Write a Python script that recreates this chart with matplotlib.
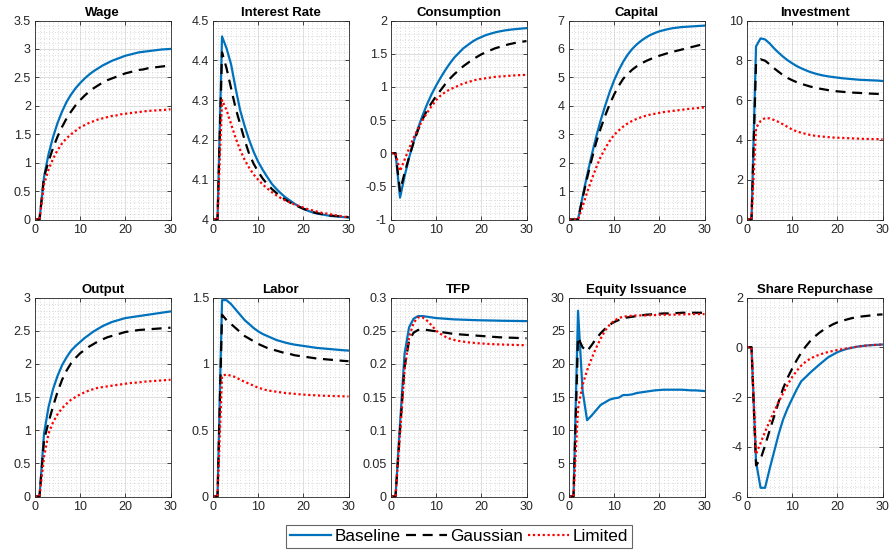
import matplotlib.pyplot as plt
from matplotlib.ticker import MultipleLocator

plt.rcParams["font.family"] = ["Liberation Sans", "DejaVu Sans"]

# Impulse responses over 30 periods
periods = list(range(31))

wage_base = [0, 0, 0.75, 1.15, 1.45, 1.7, 1.9, 2.07, 2.2, 2.31, 2.4, 2.48, 2.55, 2.61, 2.66, 2.71,
             2.75, 2.79, 2.82, 2.85, 2.88, 2.9, 2.92, 2.94, 2.95, 2.96, 2.97, 2.98, 2.99, 2.995, 3.0]
wage_gauss = [0, 0, 0.75, 1.02, 1.26, 1.46, 1.63, 1.78, 1.9, 2.01, 2.1, 2.18, 2.25, 2.31, 2.36, 2.41,
              2.45, 2.48, 2.51, 2.54, 2.57, 2.59, 2.61, 2.63, 2.64, 2.66, 2.67, 2.68, 2.69, 2.7, 2.72]
wage_lim = [0, 0, 0.62, 0.88, 1.07, 1.22, 1.34, 1.43, 1.5, 1.56, 1.62, 1.66, 1.7, 1.73, 1.76, 1.78,
            1.8, 1.82, 1.83, 1.85, 1.86, 1.87, 1.88, 1.89, 1.9, 1.91, 1.915, 1.92, 1.925, 1.93, 1.94]

rate_base = [4, 4, 4.46, 4.43, 4.39, 4.33, 4.275, 4.235, 4.2, 4.17, 4.145, 4.125, 4.107, 4.09, 4.077,
             4.066, 4.056, 4.048, 4.04, 4.033, 4.027, 4.022, 4.018, 4.015, 4.013, 4.011, 4.009, 4.008,
             4.007, 4.006, 4.005]
rate_gauss = [4, 4, 4.42, 4.38, 4.33, 4.28, 4.24, 4.2, 4.165, 4.14, 4.12, 4.103, 4.089, 4.077, 4.067,
              4.058, 4.05, 4.043, 4.037, 4.032, 4.027, 4.023, 4.019, 4.016, 4.014, 4.012, 4.01, 4.009,
              4.008, 4.007, 4.006]
rate_lim = [4, 4, 4.3, 4.275, 4.24, 4.205, 4.175, 4.15, 4.13, 4.113, 4.1, 4.088, 4.078, 4.069, 4.061,
            4.054, 4.048, 4.043, 4.038, 4.034, 4.03, 4.026, 4.023, 4.02, 4.017, 4.015, 4.013, 4.011,
            4.009, 4.007, 4.006]

cons_base = [0, 0, -0.67, -0.35, -0.07, 0.17, 0.38, 0.57, 0.74, 0.89, 1.02, 1.14, 1.25, 1.35, 1.44,
             1.51, 1.58, 1.63, 1.68, 1.72, 1.75, 1.78, 1.8, 1.82, 1.835, 1.848, 1.858, 1.866, 1.873,
             1.879, 1.885]
cons_gauss = [0, 0, -0.57, -0.3, -0.06, 0.16, 0.35, 0.51, 0.65, 0.76, 0.86, 0.95, 1.04, 1.12, 1.19,
              1.25, 1.31, 1.36, 1.41, 1.45, 1.49, 1.52, 1.55, 1.58, 1.6, 1.62, 1.64, 1.655, 1.67, 1.68,
              1.69]
cons_lim = [0, 0, -0.27, -0.1, 0.07, 0.23, 0.37, 0.5, 0.61, 0.71, 0.8, 0.87, 0.92, 0.96, 0.99, 1.02,
            1.05, 1.07, 1.09, 1.11, 1.12, 1.13, 1.14, 1.15, 1.155, 1.16, 1.165, 1.17, 1.175, 1.178, 1.18]

cap_base = [0, 0, 0, 0.8, 1.55, 2.25, 2.9, 3.48, 4.0, 4.48, 4.9, 5.25, 5.55, 5.8, 6.0, 6.16, 6.29,
            6.4, 6.49, 6.56, 6.62, 6.66, 6.7, 6.73, 6.75, 6.77, 6.78, 6.79, 6.8, 6.81, 6.82]
cap_gauss = [0, 0, 0, 0.75, 1.45, 2.1, 2.7, 3.2, 3.65, 4.05, 4.4, 4.7, 4.95, 5.12, 5.27, 5.39, 5.49,
             5.57, 5.64, 5.7, 5.76, 5.81, 5.86, 5.9, 5.94, 5.98, 6.02, 6.06, 6.1, 6.14, 6.18]
cap_lim = [0, 0, 0, 0.45, 0.95, 1.4, 1.82, 2.2, 2.5, 2.76, 2.98, 3.13, 3.27, 3.38, 3.47, 3.54, 3.6,
           3.65, 3.69, 3.72, 3.75, 3.78, 3.8, 3.82, 3.84, 3.86, 3.88, 3.9, 3.91, 3.93, 3.94]

inv_base = [0, 0, 8.7, 9.1, 9.05, 8.85, 8.6, 8.38, 8.18, 8.0, 7.85, 7.71, 7.6, 7.5, 7.41, 7.34, 7.28,
            7.23, 7.19, 7.16, 7.13, 7.1, 7.08, 7.06, 7.04, 7.02, 7.01, 7.0, 6.99, 6.98, 6.96]
inv_gauss = [0, 0, 7.85, 8.05, 7.98, 7.8, 7.6, 7.42, 7.25, 7.11, 7.0, 6.9, 6.82, 6.75, 6.68, 6.63,
             6.58, 6.54, 6.5, 6.47, 6.44, 6.42, 6.4, 6.38, 6.37, 6.36, 6.34, 6.33, 6.32, 6.31, 6.3]
inv_lim = [0, 0, 4.6, 4.95, 5.1, 5.08, 5.0, 4.9, 4.78, 4.65, 4.52, 4.43, 4.36, 4.3, 4.25, 4.21, 4.18,
           4.16, 4.14, 4.12, 4.11, 4.1, 4.09, 4.08, 4.07, 4.06, 4.05, 4.05, 4.04, 4.04, 4.03]

out_base = [0, 0, 0.95, 1.35, 1.62, 1.82, 1.98, 2.1, 2.2, 2.27, 2.33, 2.39, 2.44, 2.49, 2.53, 2.57,
            2.6, 2.63, 2.65, 2.67, 2.69, 2.7, 2.71, 2.72, 2.73, 2.74, 2.75, 2.76, 2.77, 2.78, 2.79]
out_gauss = [0, 0, 0.85, 1.12, 1.36, 1.58, 1.76, 1.9, 2.01, 2.09, 2.16, 2.21, 2.26, 2.3, 2.34, 2.37,
             2.4, 2.42, 2.44, 2.46, 2.48, 2.49, 2.5, 2.51, 2.515, 2.52, 2.525, 2.53, 2.535, 2.54, 2.545]
out_lim = [0, 0, 0.6, 0.95, 1.12, 1.24, 1.33, 1.4, 1.46, 1.5, 1.54, 1.57, 1.6, 1.62, 1.64, 1.65, 1.66,
           1.67, 1.68, 1.69, 1.7, 1.71, 1.715, 1.72, 1.73, 1.735, 1.74, 1.745, 1.75, 1.755, 1.76]

lab_base = [0, 0, 1.48, 1.48, 1.45, 1.41, 1.37, 1.33, 1.3, 1.27, 1.245, 1.225, 1.21, 1.195, 1.18, 1.17,
            1.16, 1.152, 1.145, 1.14, 1.135, 1.13, 1.125, 1.12, 1.117, 1.114, 1.111, 1.108, 1.105,
            1.102, 1.1]
lab_gauss = [0, 0, 1.37, 1.33, 1.3, 1.27, 1.24, 1.21, 1.19, 1.17, 1.15, 1.135, 1.12, 1.11, 1.1, 1.09,
             1.08, 1.075, 1.065, 1.06, 1.055, 1.05, 1.045, 1.04, 1.037, 1.034, 1.031, 1.028, 1.025,
             1.022, 1.02]
lab_lim = [0, 0, 0.91, 0.92, 0.91, 0.9, 0.88, 0.865, 0.85, 0.835, 0.82, 0.81, 0.8, 0.795, 0.79, 0.785,
           0.78, 0.777, 0.774, 0.771, 0.768, 0.766, 0.764, 0.762, 0.76, 0.759, 0.758, 0.757, 0.756,
           0.755, 0.754]

tfp_base = [0, 0, 0.11, 0.215, 0.255, 0.268, 0.272, 0.272, 0.271, 0.27, 0.269, 0.2685, 0.268, 0.2675,
            0.267, 0.2668, 0.2665, 0.2663, 0.266, 0.2658, 0.2656, 0.2655, 0.2653, 0.2652, 0.265,
            0.2649, 0.2648, 0.2647, 0.2646, 0.2645, 0.2644]
tfp_gauss = [0, 0, 0.1, 0.195, 0.235, 0.247, 0.251, 0.252, 0.251, 0.25, 0.249, 0.248, 0.247, 0.246,
             0.245, 0.2445, 0.244, 0.2435, 0.243, 0.2425, 0.242, 0.2415, 0.241, 0.2405, 0.24, 0.2398,
             0.2395, 0.2393, 0.239, 0.2388, 0.2385]
tfp_lim = [0, 0, 0.095, 0.19, 0.24, 0.262, 0.27, 0.27, 0.265, 0.258, 0.25, 0.245, 0.241, 0.238, 0.236,
           0.2345, 0.2335, 0.2325, 0.2318, 0.2312, 0.2307, 0.2302, 0.2298, 0.2295, 0.2292, 0.229,
           0.2288, 0.2286, 0.2284, 0.2282, 0.228]

eq_base = [0, 0, 28, 16, 11.5, 12.2, 13, 13.8, 14.2, 14.6, 14.8, 14.9, 15.3, 15.3, 15.4, 15.6, 15.7,
           15.8, 15.9, 16.0, 16.05, 16.1, 16.1, 16.1, 16.1, 16.1, 16.05, 16.0, 16.0, 15.95, 15.9]
eq_gauss = [0, 0, 24, 22.5, 21.9, 22.8, 23.8, 24.6, 25.3, 25.9, 26.3, 26.6, 26.9, 27.0, 27.1, 27.2,
            27.3, 27.4, 27.45, 27.5, 27.55, 27.6, 27.6, 27.65, 27.65, 27.7, 27.7, 27.7, 27.7, 27.7, 27.7]
eq_lim = [0, 0, 13.3, 16.8, 19, 20.8, 22.4, 23.8, 25, 25.9, 26.5, 26.9, 27.1, 27.2, 27.25, 27.3, 27.3,
          27.3, 27.35, 27.35, 27.4, 27.4, 27.4, 27.4, 27.45, 27.45, 27.45, 27.5, 27.5, 27.5, 27.5]

rep_base = [0, 0, -4.6, -5.65, -5.65, -4.9, -4.2, -3.5, -2.9, -2.45, -2.07, -1.7, -1.37, -1.2, -1.02,
            -0.86, -0.7, -0.55, -0.4, -0.3, -0.2, -0.13, -0.07, -0.03, 0.01, 0.04, 0.06, 0.08, 0.09,
            0.1, 0.11]
rep_gauss = [0, 0, -4.75, -4.5, -3.95, -3.35, -2.78, -2.2, -1.65, -1.22, -0.86, -0.52, -0.22, 0.03, 0.25,
             0.43, 0.58, 0.71, 0.82, 0.92, 1.0, 1.06, 1.11, 1.16, 1.2, 1.23, 1.25, 1.27, 1.29, 1.31,
             1.32]
rep_lim = [0, 0, -4.3, -3.85, -3.4, -2.98, -2.58, -2.2, -1.85, -1.5, -1.2, -0.95, -0.74, -0.58, -0.46,
           -0.37, -0.3, -0.24, -0.19, -0.15, -0.11, -0.08, -0.05, -0.02, 0.01, 0.04, 0.06, 0.08, 0.09,
           0.1, 0.11]

titles = ["Wage", "Interest Rate", "Consumption", "Capital", "Investment",
          "Output", "Labor", "TFP", "Equity Issuance", "Share Repurchase"]
series = [
    (wage_base, wage_gauss, wage_lim),
    (rate_base, rate_gauss, rate_lim),
    (cons_base, cons_gauss, cons_lim),
    (cap_base, cap_gauss, cap_lim),
    (inv_base, inv_gauss, inv_lim),
    (out_base, out_gauss, out_lim),
    (lab_base, lab_gauss, lab_lim),
    (tfp_base, tfp_gauss, tfp_lim),
    (eq_base, eq_gauss, eq_lim),
    (rep_base, rep_gauss, rep_lim),
]
# y-limits and major tick step for each panel
ylims = [(0, 3.5), (4, 4.5), (-1, 2), (0, 7), (0, 10),
         (0, 3), (0, 1.5), (0, 0.3), (0, 30), (-6, 2)]
ysteps = [0.5, 0.1, 0.5, 1, 2, 0.5, 0.5, 0.05, 5, 2]
labels = ["Baseline", "Gaussian", "Limited"]

W, H = 892, 554
fig = plt.figure(figsize=(W / 100, H / 100), dpi=100)

lefts = [35, 213, 391, 569, 747]
tops = [20.5, 297.5]
ax_w, ax_h = 135.5, 199

txt_col = "#262626"
handles = None
for i, (title, (b, g, l)) in enumerate(zip(titles, series)):
    row, col = divmod(i, 5)
    ax = fig.add_axes([lefts[col] / W, 1 - (tops[row] + ax_h) / H, ax_w / W, ax_h / H])
    h1, = ax.plot(periods, b, color="#0072BD", lw=1.6, label=labels[0])
    h2, = ax.plot(periods, g, color="black", lw=1.6, ls=(0, (4.5, 3)), label=labels[1])
    h3, = ax.plot(periods, l, color="red", lw=1.6, ls=(0, (1, 1.2)), label=labels[2])
    handles = [h1, h2, h3]

    ax.set_xlim(0, 30)
    ax.set_ylim(*ylims[i])
    ax.xaxis.set_major_locator(MultipleLocator(10))
    ax.xaxis.set_minor_locator(MultipleLocator(1))
    ax.yaxis.set_major_locator(MultipleLocator(ysteps[i]))
    ax.yaxis.set_minor_locator(MultipleLocator(ysteps[i] / 5))
    ax.grid(which="major", color="#d9d9d9", lw=0.6)
    ax.grid(which="minor", color="#a0a0a0", lw=0.5, ls=(0, (1, 3)), alpha=0.7)
    ax.set_axisbelow(True)
    ax.tick_params(which="major", direction="in", length=3, width=0.6,
                   top=True, right=True, labelsize=9, colors=txt_col, pad=3)
    ax.tick_params(which="minor", length=0)
    for sp in ax.spines.values():
        sp.set_color(txt_col)
        sp.set_linewidth(0.6)
    ax.yaxis.set_major_formatter(plt.FuncFormatter(lambda v, p: f"{v:g}"))
    ax.set_title(title, fontsize=9.5, fontweight="bold", pad=3)

leg = fig.legend(handles, labels, loc="center", bbox_to_anchor=(459 / W, 1 - 536.5 / H),
                 ncol=3, fontsize=12.3, frameon=True, fancybox=False, handlelength=2.4,
                 handletextpad=0.2, columnspacing=0.3, borderpad=0.25, borderaxespad=0)
leg.get_frame().set_edgecolor("#404040")
leg.get_frame().set_linewidth(0.8)

fig.savefig("out.png", dpi=100)
